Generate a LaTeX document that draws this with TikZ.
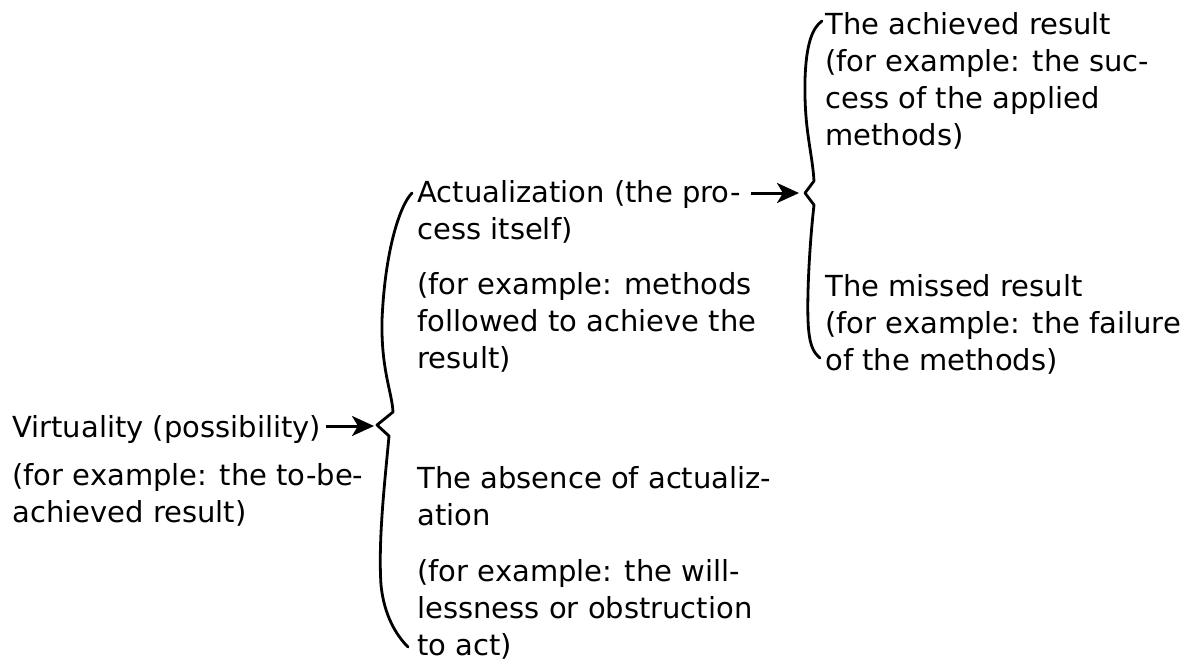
\documentclass[tikz,border=0pt]{standalone}
\usepackage{fontspec}
\setmainfont{DejaVu Sans}
\usetikzlibrary{calc,arrows.meta}
\tikzset{
	% text blocks, placed by the baseline of their last line
	txt/.style={inner sep=0,anchor=base west,align=left,
		font={\fontsize{14.5}{18.35}\selectfont}},
	% arrows into the braces and the braces themselves
	conn/.style={-{Stealth[length=11pt,width=10pt,inset=3pt]},line width=1.5pt},
	brace line/.style={line width=1.4pt,line cap=round,line join=round}
}
\begin{document}
\begin{tikzpicture}[x=0.5pt,y=-0.5pt]
	\useasboundingbox (0,0) rectangle (1187,659);
	% first level
	\node(virt)[txt] at (12,437) {Virtuality (possibility)};
	\node(virt-ex)[txt] at (12,522) {(for example: the to-be-\\achieved result)};
	% second level
	\node(act)[txt] at (417,239) {Actualization (the pro-\\cess itself)};
	\node(act-ex)[txt] at (417,368) {(for example: methods\\followed to achieve the\\result)};
	\node(absn)[txt] at (417,525) {The absence of actualiz-\\ation};
	\node(absn-ex)[txt] at (417,655) {(for example: the will-\\lessness or obstruction\\to act)};
	% third level
	\node(ach)[txt] at (825,145) {The achieved result\\(for example: the suc-\\cess of the applied\\methods)};
	\node(miss)[txt] at (825,370) {The missed result\\(for example: the failure\\of the methods)};
	% tips of the braces
	\coordinate(tip1) at (374,426);
	\coordinate(tip2) at (799,193);
	% braces
	\draw[brace line] (412,193) .. controls (400,205) and (385,250) .. (382,320)
		.. controls (381,370) and (392,392) .. (393,412) -- (377,425) -- (389,436)
		.. controls (385,480) and (378,540) .. (381,585)
		.. controls (384,615) and (396,635) .. (408,647);
	\draw[brace line] (822,21) .. controls (812,28) and (806,45) .. (805,80)
		.. controls (804,130) and (812,150) .. (814,181) -- (805,193) -- (814,205)
		.. controls (810,240) and (807,290) .. (808,320)
		.. controls (809,345) and (813,352) .. (820,358);
	% arrows
	\draw[conn] ($(virt.east |- tip1)+(4,0)$) -- (tip1);
	\draw[conn] ($(act.east |- tip2)+(10,0)$) -- (tip2);
\end{tikzpicture}
\end{document}
